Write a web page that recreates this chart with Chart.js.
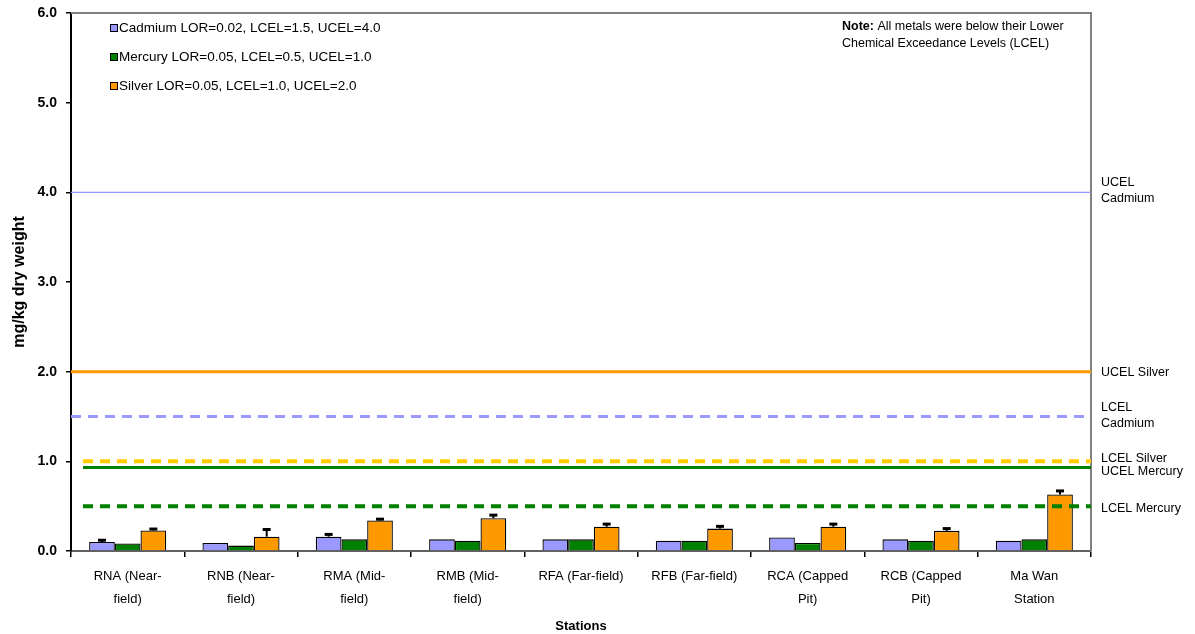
<!DOCTYPE html>
<html>
<head>
<meta charset="utf-8">
<script src="https://cdn.jsdelivr.net/npm/chart.js@4.4.1/dist/chart.umd.min.js"></script>
<style>
  html, body { margin: 0; padding: 0; background: #fff; }
  #wrap { width: 1195px; height: 634px; }
</style>
</head>
<body>
<div id="wrap"><canvas id="metalsChart" width="1195" height="634"></canvas></div>
<script>
// ---------------- DATA ----------------
const stations = [
  ["RNA (Near-", "field)"], ["RNB (Near-", "field)"], ["RMA (Mid-", "field)"],
  ["RMB (Mid-", "field)"], "RFA (Far-field)", "RFB (Far-field)",
  ["RCA (Capped", "Pit)"], ["RCB (Capped", "Pit)"], ["Ma Wan", "Station"]
];
const cadmium = [0.10, 0.09, 0.16, 0.13, 0.13, 0.115, 0.15, 0.13, 0.115];
const mercury = [0.085, 0.06, 0.13, 0.115, 0.13, 0.115, 0.09, 0.115, 0.13];
const silver = [0.23, 0.16, 0.34, 0.365, 0.27, 0.25, 0.27, 0.225, 0.63];
const cadmiumErr = [0.12, 0.10, 0.185, 0.14, 0.14, 0.125, 0.16, 0.14, 0.12];
const mercuryErr = [0.09, 0.07, 0.13, 0.12, 0.13, 0.12, 0.10, 0.12, 0.13];
const silverErr = [0.245, 0.24, 0.355, 0.40, 0.30, 0.275, 0.30, 0.25, 0.67];
const seriesNames = [
  "Cadmium LOR=0.02, LCEL=1.5, UCEL=4.0",
  "Mercury LOR=0.05, LCEL=0.5, UCEL=1.0",
  "Silver LOR=0.05, LCEL=1.0, UCEL=2.0"
];
const yTicks = [0, 1, 2, 3, 4, 5, 6];
// threshold lines (drawn on y scale), labels shown to the right of the plot
const refNames = [["UCEL", "Cadmium"], ["UCEL Silver"], ["LCEL", "Cadmium"], ["LCEL Silver"], ["UCEL Mercury"], ["LCEL Mercury"]];
const refValues = [4.0, 2.0, 1.5, 1.0, 0.93, 0.5];

// ---------------- STYLES ----------------
const FONT = "'Liberation Sans', Arial, sans-serif";
const refStyles = [
  { color: "#9999ff", width: 1.2, dash: [], nudge: -2, inset: 0 },
  { color: "#ff9900", width: 3, dash: [], nudge: 1, inset: 0 },
  { color: "#9999ff", width: 3, dash: [10, 7], nudge: -1, inset: 0 },
  { color: "#ffcc00", width: 4, dash: [10, 7], nudge: -3, inset: 12 },
  { color: "#008000", width: 3, dash: [], nudge: 4, inset: 12 },
  { color: "#008000", width: 4, dash: [10, 7], nudge: 2, inset: 12 }
];
const barColors = ["#9999ff", "#008000", "#ff9900"];

const barSets = [cadmium, mercury, silver].map((vals, i) => ({
  label: seriesNames[i],
  data: vals,
  backgroundColor: barColors[i],
  borderColor: "#000",
  borderWidth: 1.3,
  borderSkipped: "bottom",
  categoryPercentage: 0.68,
  barPercentage: 1.0,
  errTop: [cadmiumErr, mercuryErr, silverErr][i]
}));

// ---------------- PLUGINS ----------------
const framePlugin = {
  id: "frame",
  beforeDatasetsDraw(chart) {
    const { ctx, chartArea: a } = chart;
    ctx.save();
    ctx.strokeStyle = "#808080";
    ctx.lineWidth = 2;
    ctx.beginPath();
    ctx.moveTo(a.left, a.top);
    ctx.lineTo(a.right, a.top);
    ctx.lineTo(a.right, a.bottom);
    ctx.stroke();
    ctx.restore();
  }
};

// horizontal threshold lines at refValues, placed with the y scale
const refLines = {
  id: "refLines",
  afterDatasetsDraw(chart) {
    const { ctx, chartArea: a } = chart;
    const y = chart.scales.y;
    ctx.save();
    refValues.forEach((v, i) => {
      const s = refStyles[i];
      const py = y.getPixelForValue(v);
      ctx.strokeStyle = s.color;
      ctx.lineWidth = s.width;
      ctx.setLineDash(s.dash);
      ctx.beginPath();
      ctx.moveTo(a.left + s.inset, py);
      ctx.lineTo(a.right, py);
      ctx.stroke();
    });
    ctx.restore();
  }
};

const errorBars = {
  id: "errorBars",
  afterDatasetsDraw(chart) {
    const { ctx } = chart;
    const y = chart.scales.y;
    ctx.save();
    ctx.strokeStyle = "#000";
    chart.data.datasets.forEach((ds, di) => {
      if (!ds.errTop) return;
      chart.getDatasetMeta(di).data.forEach((bar, i) => {
        const yt = y.getPixelForValue(ds.errTop[i]);
        if (yt >= bar.y - 1) return;
        ctx.lineWidth = 2;
        ctx.beginPath();
        ctx.moveTo(bar.x, bar.y);
        ctx.lineTo(bar.x, yt);
        ctx.stroke();
        ctx.lineWidth = 3;
        ctx.beginPath();
        ctx.moveTo(bar.x - 4, yt);
        ctx.lineTo(bar.x + 4, yt);
        ctx.stroke();
      });
    });
    ctx.restore();
  }
};

const sideLabels = {
  id: "sideLabels",
  afterDraw(chart) {
    const { ctx, chartArea: a } = chart;
    const y = chart.scales.y;
    ctx.save();
    ctx.fillStyle = "#000";
    ctx.font = "12.5px " + FONT;
    ctx.textAlign = "left";
    ctx.textBaseline = "middle";
    refNames.forEach((lines, i) => {
      const cy = y.getPixelForValue(refValues[i]) + refStyles[i].nudge;
      const lh = 16;
      lines.forEach((t, k) => {
        ctx.fillText(t, a.right + 10, cy + (k - (lines.length - 1) / 2) * lh);
      });
    });
    ctx.restore();
  }
};

const boxLegend = {
  id: "boxLegend",
  afterDraw(chart) {
    const { ctx, chartArea: a } = chart;
    ctx.save();
    ctx.font = "13.5px " + FONT;
    ctx.textBaseline = "middle";
    chart.data.datasets.forEach((ds, i) => {
      const cy = a.top + 15 + i * 29;
      const bx = a.left + 39;
      ctx.fillStyle = ds.backgroundColor;
      ctx.fillRect(bx, cy - 4, 8, 8);
      ctx.strokeStyle = "#000";
      ctx.lineWidth = 1;
      ctx.strokeRect(bx + 0.5, cy - 3.5, 7, 7);
      ctx.fillStyle = "#000";
      ctx.fillText(ds.label, bx + 9, cy);
    });
    // note, top right
    const nx = a.left + 771;
    ctx.font = "bold 12.5px " + FONT;
    ctx.fillText("Note:", nx, a.top + 14);
    const w = ctx.measureText("Note: ").width;
    ctx.font = "12.5px " + FONT;
    ctx.fillText("All metals were below their Lower", nx + w, a.top + 14);
    ctx.fillText("Chemical Exceedance Levels (LCEL)", nx, a.top + 31);
    ctx.restore();
  }
};

// ---------------- CHART ----------------
const ctx = document.getElementById("metalsChart").getContext("2d");
new Chart(ctx, {
  type: "bar",
  data: {
    labels: stations,
    datasets: barSets
  },
  options: {
    responsive: false,
    animation: false,
    layout: { padding: { top: 13, right: 104, left: 0, bottom: 0 } },
    plugins: {
      legend: { display: false },
      tooltip: { enabled: false }
    },
    scales: {
      x: {
        type: "category",
        offset: true,
        grid: { display: true, offset: true, drawOnChartArea: false, color: "#000", tickLength: 6, lineWidth: 1.5 },
        border: { color: "#606060", width: 2 },
        ticks: { color: "#000", font: { family: FONT, size: 13, lineHeight: 1.75 }, maxRotation: 0, autoSkip: false, padding: 8 },
        title: { display: true, text: "Stations", color: "#000", font: { family: FONT, size: 13, weight: "bold" }, padding: { top: 6, bottom: 0 } },
        afterFit(scale) { scale.height = 83; }
      },
      y: {
        min: 0,
        max: 6,
        afterBuildTicks(scale) { scale.ticks = yTicks.map(v => ({ value: v })); },
        grid: { display: true, drawOnChartArea: false, color: "#000", tickLength: 5, lineWidth: 1.5 },
        border: { color: "#000", width: 2 },
        ticks: {
          color: "#000",
          padding: 9,
          font: { family: FONT, size: 14, weight: "bold" },
          callback: v => v.toFixed(1)
        },
        title: { display: true, text: "mg/kg dry weight", color: "#000", font: { family: FONT, size: 16, weight: "bold" }, padding: { top: 10, bottom: 3 } },
        afterFit(scale) {
          scale.width = 71;
          scale.paddingTop = 0;
          scale.paddingBottom = 0;
        }
      }
    }
  },
  plugins: [framePlugin, refLines, errorBars, sideLabels, boxLegend]
});
</script>
</body>
</html>
